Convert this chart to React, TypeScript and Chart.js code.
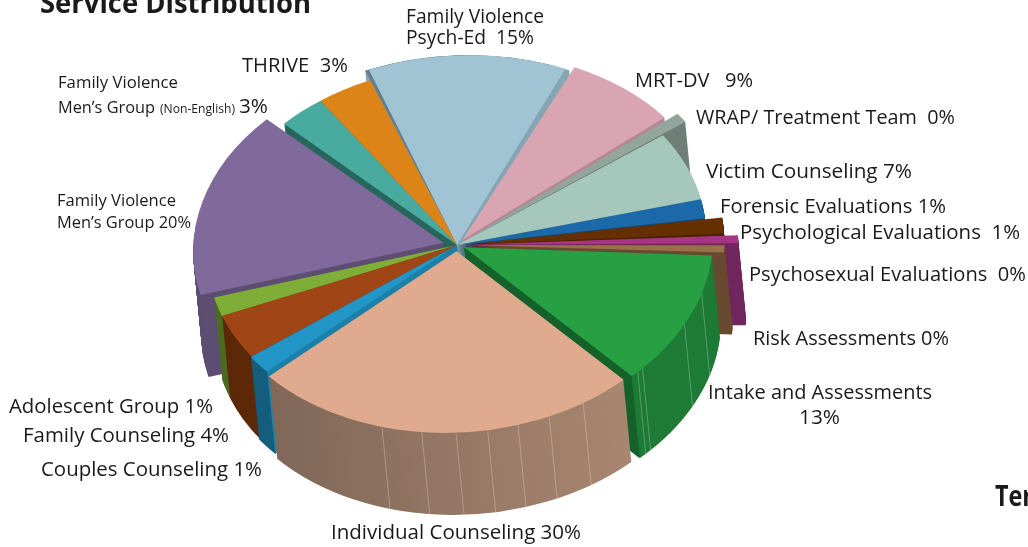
import React, { useEffect, useRef } from "react";
import { Chart, registerables } from "chart.js";

Chart.register(...registerables);

// Slices, clockwise from the lower-right edge of the largest slice.
const categories = [
  "Individual Counseling", "Couples Counseling", "Family Counseling", "Adolescent Group",
  "Family Violence Men's Group", "Family Violence Men's Group (Non-English)", "THRIVE",
  "Family Violence Psych-Ed", "MRT-DV", "WRAP/ Treatment Team", "Victim Counseling",
  "Forensic Evaluations", "Psychological Evaluations", "Psychosexual Evaluations",
  "Risk Assessments", "Intake and Assessments",
];
// Share of the drawn circle.
const sliceShares = [25.39, 1.69, 4.08, 1.72, 16.42, 3.06, 3.63, 12.9, 7.36, 0.97, 6.25, 1.69, 1.5, 0.78, 0.75, 11.81];
const faceColors = ["#dfaa8e", "#2297c7", "#a04616", "#7fae38", "#80699b", "#49ab9f", "#dc8418", "#a0c4d4", "#daa5b3", "#92a69e", "#a6c7bc", "#1b69a8", "#652f00", "#a83484", "#98704a", "#26a043"];
const rimColors = ["#927662", "#145d7c", "#5c2808", "#4d6a22", "#5e4e73", "#28665d", "#8f5510", "#85a5b3", "#b48897", "#6f7f78", "#7d9a90", "#124a78", "#4a2200", "#72265f", "#684a30", "#1e7b36"];
const sliceRadius = [248, 251, 250, 250, 248, 245, 245, 259, 251, 260, 249, 249, 251, 265, 252, 246];
const sliceOffset = [8.5, 0, 0, 0, 14, 0, 0, 0, 9, 9, 0, 0, 8, 8, 8, 8];
const paintOrder = [7, 8, 9, 6, 5, 4, 10, 11, 12, 13, 14, 15, 3, 2, 1, 0];
const individualSeams = [0.654, 0.551, 0.464, 0.384, 0.306, 0.223, 0.127];
const intakeSeams = [0.955, 0.918, 0.53, 0.287];

const BASE_RADIUS = 250;
const TILT = 0.733;
const SHEAR = -0.064;
const PIVOT_X = 457;
const PIVOT_Y = 245;
const DEPTH_X = 8;
const DEPTH_Y = 82;
const RAD = Math.PI / 180;

type Label = { text: string; x: number; y: number; w: number; size: number; weight?: number };
const labels: Label[] = [
  { text: "Service Distribution", x: 40, y: 13, w: 271, size: 28, weight: 700 },
  { text: "Family Violence", x: 406, y: 23, w: 138, size: 20 },
  { text: "Psych-Ed  15%", x: 406, y: 44, w: 128, size: 20 },
  { text: "THRIVE  3%", x: 242, y: 72, w: 106, size: 20 },
  { text: "MRT-DV   9%", x: 635, y: 87, w: 118, size: 20 },
  { text: "WRAP/ Treatment Team  0%", x: 696, y: 124, w: 259, size: 20 },
  { text: "Victim Counseling 7%", x: 706, y: 178, w: 206, size: 20 },
  { text: "Forensic Evaluations 1%", x: 720, y: 213, w: 226, size: 20 },
  { text: "Psychological Evaluations  1%", x: 740, y: 239, w: 280, size: 20 },
  { text: "Psychosexual Evaluations  0%", x: 749, y: 281, w: 277, size: 20 },
  { text: "Risk Assessments 0%", x: 753, y: 345, w: 196, size: 20 },
  { text: "Intake and Assessments", x: 708, y: 399, w: 224, size: 20 },
  { text: "13%", x: 799, y: 424, w: 41, size: 20 },
  { text: "Individual Counseling 30%", x: 331, y: 539, w: 250, size: 20 },
  { text: "Couples Counseling 1%", x: 41, y: 476, w: 221, size: 20 },
  { text: "Family Counseling 4%", x: 23, y: 442, w: 206, size: 20 },
  { text: "Adolescent Group 1%", x: 9, y: 413, w: 204, size: 20 },
  { text: "Family Violence", x: 58, y: 88, w: 120, size: 17 },
  { text: "Men’s Group", x: 58, y: 113, w: 97, size: 17 },
  { text: "(Non-English)", x: 160, y: 113, w: 75, size: 12 },
  { text: "3%", x: 239, y: 113, w: 29, size: 20 },
  { text: "Family Violence", x: 57, y: 206, w: 119, size: 17 },
  { text: "Men’s Group 20%", x: 57, y: 228, w: 134, size: 17 },
  { text: "Ter", x: 995, y: 506, w: 38, size: 28, weight: 700 },
];

const tiltedPie = {
  id: "tiltedPie",
  beforeDatasetsDraw(chart: any) {
    const ctx: CanvasRenderingContext2D = chart.ctx;
    const arcs: any[] = chart.getDatasetMeta(0).data;
    const cx = arcs[0].x;
    const cy = arcs[0].y;
    const c = SHEAR * TILT;
    const e = PIVOT_X - cx - c * cy;
    const f = PIVOT_Y - TILT * cy;
    const toScreen = (x: number, y: number) => [x + c * y + e, TILT * y + f];

    const paint = (i: number, fill: any, dx = 0, dy = 0, fromInset = 0, toInset = 0) => {
      const el = arcs[i];
      const kept = { r: el.outerRadius, s: el.startAngle, t: el.endAngle, n: el.circumference, o: el.options };
      el.outerRadius = sliceRadius[i];
      el.startAngle += fromInset * RAD;
      el.endAngle -= toInset * RAD;
      el.circumference -= (fromInset + toInset) * RAD;
      el.options = { ...kept.o, backgroundColor: fill, borderWidth: 0 };
      ctx.save();
      ctx.translate(dx, dy);
      ctx.transform(1, 0, c, TILT, e, f);
      el.draw(ctx);
      ctx.restore();
      el.outerRadius = kept.r;
      el.startAngle = kept.s;
      el.endAngle = kept.t;
      el.circumference = kept.n;
      el.options = kept.o;
    };

    const edgePoint = (i: number, angle: number) => {
      const el = arcs[i];
      const mid = (el.startAngle + el.endAngle) / 2;
      const off = sliceOffset[i];
      const ax = el.x + Math.cos(mid) * off;
      const ay = el.y + Math.sin(mid) * off;
      const rr = sliceRadius[i] + off * (1 - Math.sin(Math.min(Math.PI, el.circumference)));
      return { apex: toScreen(ax, ay), rim: toScreen(ax + Math.cos(angle) * rr, ay + Math.sin(angle) * rr) };
    };

    const radialWall = (i: number, angle: number, color: string) => {
      const { apex, rim } = edgePoint(i, angle);
      ctx.fillStyle = color;
      ctx.beginPath();
      ctx.moveTo(apex[0], apex[1]);
      ctx.lineTo(rim[0], rim[1]);
      ctx.lineTo(rim[0] + DEPTH_X, rim[1] + DEPTH_Y);
      ctx.lineTo(apex[0] + DEPTH_X, apex[1] + DEPTH_Y);
      ctx.closePath();
      ctx.fill();
    };

    const seams = (i: number, list: number[]) => {
      const el = arcs[i];
      ctx.strokeStyle = "rgba(255,255,255,0.25)";
      ctx.lineWidth = 1;
      list.forEach((t) => {
        const { rim } = edgePoint(i, el.startAngle + t * el.circumference);
        ctx.beginPath();
        ctx.moveTo(rim[0], rim[1]);
        ctx.lineTo(rim[0] + DEPTH_X, rim[1] + DEPTH_Y);
        ctx.stroke();
      });
    };

    const individualRim = ctx.createLinearGradient(cx - 190, 0, cx + 175, 0);
    individualRim.addColorStop(0, "#7f6657");
    individualRim.addColorStop(1, "#a88670");

    paintOrder.forEach((i) => {
      const fill = i === 0 ? individualRim : rimColors[i];
      for (let step = DEPTH_Y; step >= 1; step--) {
        paint(i, fill, (DEPTH_X * step) / DEPTH_Y, step);
      }
      if (i === 15) radialWall(15, arcs[15].endAngle, "#14622a");
      if (i === 1) radialWall(1, arcs[1].startAngle, "#1c80a8");
      if (i === 15) seams(15, intakeSeams);
      if (i === 0) seams(0, individualSeams);
    });

    paintOrder.forEach((i) => {
      if (i === 7) {
        paint(7, rimColors[7]);
        paint(7, "#65808c", 0, 0, 0, 4);
        paint(7, faceColors[7], 0, 0, 0.9, 1.0);
      } else {
        paint(i, faceColors[i]);
      }
    });
    return false;
  },
  afterDraw(chart: any) {
    const ctx: CanvasRenderingContext2D = chart.ctx;
    ctx.fillStyle = "#1a1a1a";
    ctx.textBaseline = "alphabetic";
    ctx.textAlign = "left";
    labels.forEach((l) => {
      ctx.save();
      ctx.font = `${l.weight || 400} ${l.size}px "Open Sans"`;
      const natural = ctx.measureText(l.text).width;
      ctx.translate(l.x, l.y);
      ctx.scale(l.w / natural, 1);
      ctx.fillText(l.text, 0, 0);
      ctx.restore();
    });
  },
};

export default function App() {
  const ref = useRef<HTMLCanvasElement>(null);
  useEffect(() => {
    document.body.style.margin = "0";
    const chart = new Chart(ref.current as HTMLCanvasElement, {
      type: "pie",
      data: {
        labels: categories,
        datasets: [
          {
            data: sliceShares,
            backgroundColor: faceColors,
            borderWidth: 0,
            offset: sliceOffset.map((v) => v * 4),
          },
        ],
      },
      options: {
        responsive: false,
        animation: false,
        rotation: 135,
        radius: BASE_RADIUS,
        layout: { padding: 0 },
        plugins: { legend: { display: false }, tooltip: { enabled: false } },
      },
      plugins: [tiltedPie],
    } as any);
    return () => chart.destroy();
  }, []);
  return <canvas ref={ref} width={1028} height={547} style={{ display: "block", width: 1028, height: 547 }} />;
}
